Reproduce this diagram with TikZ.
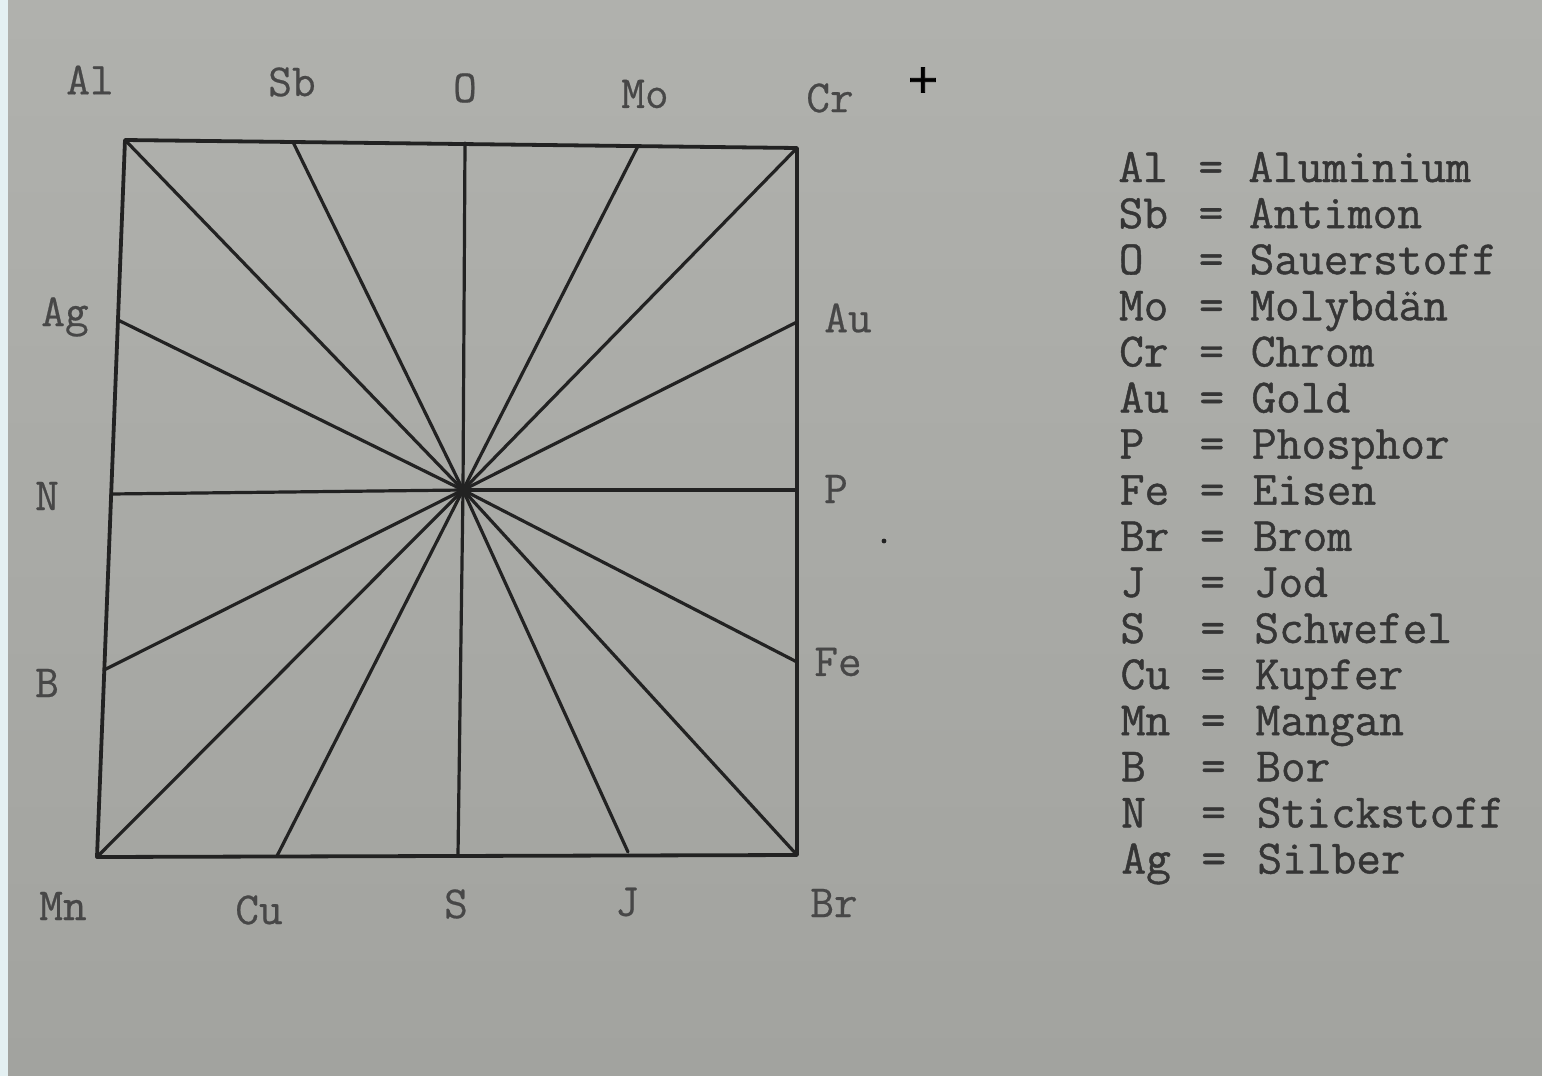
\documentclass[tikz,border=0pt]{standalone}
\usepackage{fontspec}
\newfontfamily\legfont[FakeBold=0.9]{Latin Modern Mono}
\newfontfamily\labfont[FakeBold=0.5]{Latin Modern Mono}
\newfontfamily\plusfont[FakeBold=2]{DejaVu Sans}
\definecolor{papertop}{HTML}{B0B1AD}
\definecolor{paperbot}{HTML}{A2A39F}
\definecolor{ink}{HTML}{222222}
\definecolor{lbl}{HTML}{474747}
\definecolor{leg}{HTML}{353535}
\definecolor{edge}{HTML}{E4F0F2}
\tikzset{
  ray/.style={draw=ink, line width=1.6pt, line cap=round},
  frame/.style={draw=ink, line width=1.9pt, line join=round},
  lab/.style={text=lbl, font=\labfont\fontsize{23}{23}\selectfont, inner sep=0pt},
  legs/.style={text=leg, font=\legfont\fontsize{24}{24}\selectfont, inner sep=0pt, anchor=base west},
}
\begin{document}
\begin{tikzpicture}[x=0.5pt,y=-0.5pt]
\shade[top color=papertop, bottom color=paperbot] (0,0) rectangle (1542,1076);
\fill[edge] (0,0) rectangle (8,1076);
\useasboundingbox (0,0) rectangle (1542,1076);
% corners and endpoints
\coordinate (c) at (463,490);
\coordinate (Al) at (125,140);
\coordinate (Sb) at (293,142);
\coordinate (O) at (465,143);
\coordinate (Mo) at (638,146);
\coordinate (Cr) at (797,148);
\coordinate (Au) at (797,322);
\coordinate (P) at (797,490);
\coordinate (Fe) at (797,662);
\coordinate (Br) at (797,855);
\coordinate (J) at (628,852);
\coordinate (S) at (458,855);
\coordinate (Cu) at (277,856);
\coordinate (Mn) at (97,857);
\coordinate (B) at (104,670);
\coordinate (N) at (111,494);
\coordinate (Ag) at (118,320);
% rays
\foreach \p in {Al,Sb,O,Mo,Cr,Au,P,Fe,Br,J,S,Cu,Mn,B,N,Ag}
  \draw[ray] (c) -- (\p);
\draw[frame] (Al) -- (Cr) -- (Br) -- (Mn) -- cycle;
\fill[ink] (c) circle (3.2pt);
% labels
\node[lab] (lAl) at (90,80) {Al};
\node[lab] (lSb) at (292,82) {Sb};
\node[lab] (lO) at (465,88) {O};
\node[lab] (lMo) at (645,94) {Mo};
\node[lab] (lCr) at (830,98) {Cr};
\node[text=black, font=\plusfont\fontsize{20}{20}\selectfont, inner sep=0pt] (plus) at (923,80) {+};
\node[lab] (lAg) at (65,317) {Ag};
\node[lab] (lAu) at (848,318) {Au};
\node[lab] (lN) at (47,496) {N};
\node[lab] (lP) at (836,489) {P};
\node[lab] (lB) at (47,683) {B};
\node[lab] (lFe) at (838,662) {Fe};
\node[lab] (lMn) at (63,906) {Mn};
\node[lab] (lCu) at (259,910) {Cu};
\node[lab] (lS) at (456,904) {S};
\node[lab] (lJ) at (627,902) {J};
\node[lab] (lBr) at (834,903) {Br};
\fill[ink] (884,541) circle (1.2pt);
% legend
\foreach \s/\n [count=\i from 0] in {Al/Aluminium,Sb/Antimon,O/Sauerstoff,Mo/Molybdän,Cr/Chrom,Au/Gold,P/Phosphor,Fe/Eisen,Br/Brom,J/Jod,S/Schwefel,Cu/Kupfer,Mn/Mangan,B/Bor,N/Stickstoff,Ag/Silber}{
  \pgfmathsetmacro{\yy}{182+46.1*\i}
  \pgfmathsetmacro{\xs}{1118+0.2*\i}
  \pgfmathsetmacro{\xn}{1248+0.6*\i}
  \node[legs] (sym\i) at (\xs,\yy) {\s};
  \node[legs] (eq\i) at (1198+0.2*\i,\yy) {=};
  \node[legs] (name\i) at (\xn,\yy) {\n};
}
\end{tikzpicture}
\end{document}
